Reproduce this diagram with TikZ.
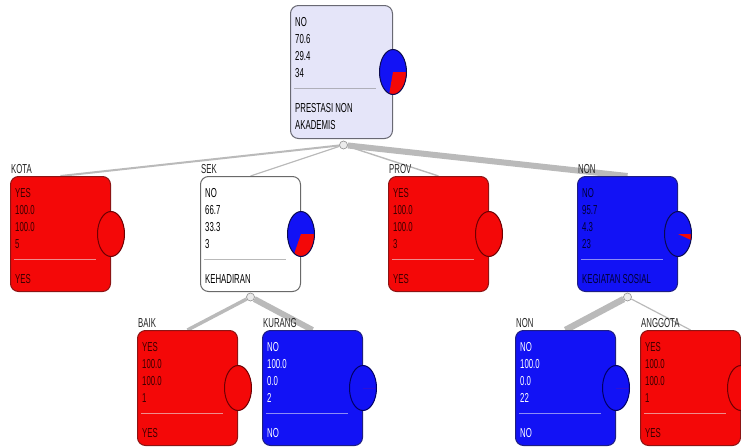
\documentclass[tikz,border=0pt]{standalone}
\usepackage{fontspec}
\newfontfamily\treefont{Liberation Sans}[FakeStretch=0.6]
\usetikzlibrary{backgrounds}

\definecolor{leafred}{RGB}{244,8,8}
\definecolor{leafblue}{RGB}{18,18,245}
\definecolor{rootfill}{RGB}{229,229,249}
\definecolor{branchgray}{RGB}{186,186,186}

% one tree node: name, top-left corner, style, branch label, figures, split text, red share (degrees)
\newcommand\treenode[7]{%
  \node[box,#3,anchor=north west] (#1) at (#2) {};
  \node[branchlbl] (#1-l) at ([xshift=1pt,yshift=3pt]#1.north west) {#4};
  \foreach \v [count=\i] in {#5}
    \node[stat,#3 text] (#1-v\i) at ([xshift=5pt,yshift={-4pt-17pt*\i}]#1.north west) {\v};
  \draw[#3 sep] ([xshift=4pt,yshift=-83pt]#1.north west) -- ([xshift=86pt,yshift=-83pt]#1.north west);
  \foreach \d [count=\i] in {#6}
    \node[stat,#3 text] (#1-d\i) at ([xshift=5pt,yshift={-90pt-17pt*\i}]#1.north west) {\d};
  \coordinate (#1-pie) at (#1.east);
  \fill[leafblue] (#1-pie) ellipse [x radius=13.5, y radius=22.5];
  \fill[leafred] (#1-pie) -- ++(0:13.5 and 22.5) arc [start angle=0, end angle=#7, x radius=13.5, y radius=22.5] -- cycle;
  \draw[#3 pie] (#1-pie) ellipse [x radius=13.5, y radius=22.5];
}

\begin{document}
\begin{tikzpicture}[x=1pt,y=-1pt]
\tikzset{
  box/.style={draw, rounded corners=8pt, minimum width=100pt, minimum height=115pt, inner sep=0, line width=1pt},
  stat/.style={font=\treefont\fontsize{13}{15}\selectfont, anchor=base west, inner sep=0},
  branchlbl/.style={stat, text={rgb,255:red,35;green,35;blue,35}},
  joint/.style={circle, draw=gray!80, fill=gray!15, minimum size=8pt, inner sep=0, line width=0.7pt},
  branch/.style={draw=branchgray},
  % node looks
  rootsplit/.style={fill=rootfill, draw={rgb,255:red,105;green,105;blue,115}, minimum width=102pt, minimum height=133pt},
  rootsplit text/.style={text=black},
  rootsplit sep/.style={draw={rgb,255:red,175;green,175;blue,185}, line width=1pt},
  rootsplit pie/.style={draw={rgb,255:red,10;green,10;blue,80}, line width=1pt},
  whitesplit/.style={fill=white, draw={rgb,255:red,105;green,105;blue,105}},
  whitesplit text/.style={text=black},
  whitesplit sep/.style={draw={rgb,255:red,185;green,185;blue,185}, line width=1pt},
  whitesplit pie/.style={draw={rgb,255:red,10;green,10;blue,80}, line width=1pt},
  bluesplit/.style={fill=leafblue, draw={rgb,255:red,30;green,30;blue,130}},
  bluesplit text/.style={text={rgb,255:red,0;green,0;blue,55}},
  bluesplit sep/.style={draw={rgb,255:red,140;green,140;blue,245}, line width=1pt},
  bluesplit pie/.style={draw={rgb,255:red,10;green,10;blue,80}, line width=1pt},
  redleaf/.style={fill=leafred, draw={rgb,255:red,140;green,20;blue,20}},
  redleaf text/.style={text={rgb,255:red,60;green,0;blue,0}},
  redleaf sep/.style={draw={rgb,255:red,238;green,140;blue,140}, line width=1pt},
  redleaf pie/.style={draw={rgb,255:red,110;green,0;blue,0}, line width=1pt},
  blueleaf/.style={fill=leafblue, draw={rgb,255:red,30;green,30;blue,130}},
  blueleaf text/.style={text=white},
  blueleaf sep/.style={draw={rgb,255:red,140;green,140;blue,245}, line width=1pt},
  blueleaf pie/.style={draw={rgb,255:red,0;green,0;blue,100}, line width=1pt},
}
\useasboundingbox (0,0) rectangle (741,447);

% top split
\treenode{root}{290,5}{rootsplit}{}{NO,70.6,29.4,34}{PRESTASI NON,AKADEMIS}{106}

% first level
\treenode{kota}{10,176}{redleaf}{KOTA}{YES,100.0,100.0,5}{YES}{360}
\treenode{sek}{200,176}{whitesplit}{SEK}{NO,66.7,33.3,3}{KEHADIRAN}{120}
\treenode{prov}{388,176}{redleaf}{PROV}{YES,100.0,100.0,3}{YES}{360}
\treenode{non}{577,176}{bluesplit}{NON}{NO,95.7,4.3,23}{KEGIATAN SOSIAL}{15.5}

% second level
\treenode{baik}{137,330}{redleaf}{BAIK}{YES,100.0,100.0,1}{YES}{360}
\treenode{kurang}{262,330}{blueleaf}{KURANG}{NO,100.0,0.0,2}{NO}{0}
\treenode{nonsos}{515,330}{blueleaf}{NON}{NO,100.0,0.0,22}{NO}{0}
\treenode{anggota}{640,330}{redleaf}{ANGGOTA}{YES,100.0,100.0,1}{YES}{360}

\node[joint] (root-j) at ([xshift=2pt,yshift=-6pt]root.south) {};
\node[joint] (sek-j) at ([yshift=-5pt]sek.south) {};
\node[joint] (non-j) at ([yshift=-5pt]non.south) {};

% branches, width follows the case count
\begin{scope}[on background layer]
\draw[branch,line width=2pt] (root-j) -- (kota.north);
\draw[branch,line width=1.2pt] (root-j) -- (sek.north);
\draw[branch,line width=1.4pt] (root-j) -- (prov.north);
\draw[branch,line width=6pt] (root-j) -- (non.north);
\draw[branch,line width=3.5pt] (sek-j) -- (baik.north);
\draw[branch,line width=6pt] (sek-j) -- (kurang.north);
\draw[branch,line width=6.5pt] (non-j) -- (nonsos.north);
\draw[branch,line width=1.2pt] (non-j) -- (anggota.north);
\end{scope}
\end{tikzpicture}
\end{document}
